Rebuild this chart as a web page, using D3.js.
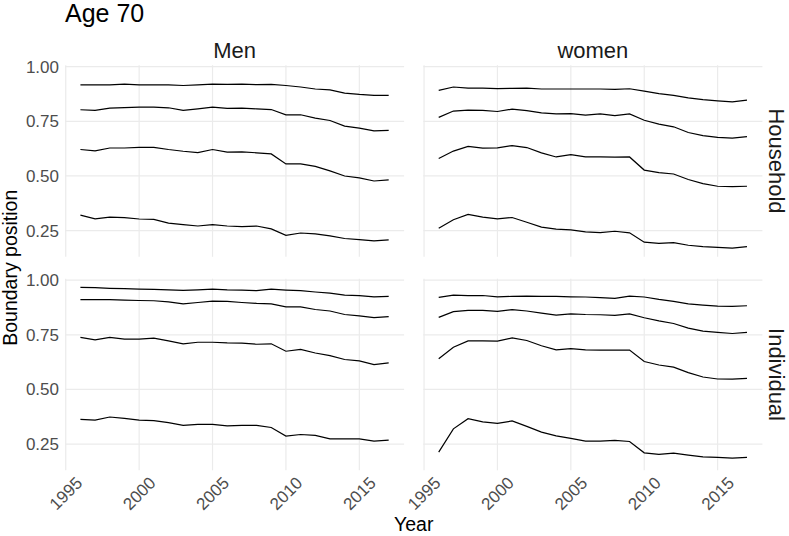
<!DOCTYPE html>
<html>
<head>
<meta charset="utf-8">
<script src="https://cdn.jsdelivr.net/npm/d3@7"></script>
<style>
  body { margin: 0; background: #fff; }
  svg { display: block; font-family: "Liberation Sans", Arial, Helvetica, sans-serif; }
  .grid line { stroke: #ebebeb; stroke-width: 1.2; }
  .tick-label { fill: #4d4d4d; font-size: 17px; }
  .strip { fill: #1a1a1a; font-size: 22px; }
</style>
</head>
<body>
<svg></svg>
<script>
let width = 789
let height = 536

// boundary positions, 1996..2017, four boundaries per panel
let years = [1996, 1997, 1998, 1999, 2000, 2001, 2002, 2003, 2004, 2005, 2006,
    2007, 2008, 2009, 2010, 2011, 2012, 2013, 2014, 2015, 2016, 2017]
let sexes = ['Men', 'women']
let units = ['Household', 'Individual']
let xTicks = [1995, 2000, 2005, 2010, 2015]
let yTicks = [0.25, 0.50, 0.75, 1.00]

let menHousehold = [
    [.321, .304, .312, .309, .303, .301, .284, .277, .271, .277, .271, .268, .271, .258, .228, .239, .235, .226, .214, .209, .203, .208],
    [.621, .615, .628, .628, .631, .631, .621, .613, .607, .621, .609, .610, .606, .601, .555, .555, .544, .523, .500, .491, .477, .482],
    [.803, .800, .810, .813, .815, .815, .812, .800, .807, .815, .809, .810, .807, .804, .780, .780, .765, .754, .728, .719, .706, .709],
    [.917, .917, .917, .920, .917, .917, .917, .914, .917, .920, .919, .920, .918, .919, .914, .907, .898, .894, .879, .873, .869, .869]
]
let womenHousehold = [
    [.261, .300, .324, .312, .304, .310, .288, .266, .257, .253, .244, .241, .247, .240, .197, .192, .195, .183, .177, .173, .170, .177],
    [.580, .614, .635, .627, .629, .639, .630, .606, .587, .598, .587, .587, .586, .587, .527, .515, .509, .484, .465, .453, .451, .453],
    [.768, .797, .801, .800, .795, .806, .799, .789, .784, .785, .778, .784, .776, .784, .755, .737, .725, .699, .685, .677, .673, .680],
    [.892, .907, .902, .902, .900, .901, .902, .898, .898, .898, .898, .898, .896, .899, .888, .877, .869, .857, .849, .844, .839, .847]
]
let menIndividual = [
    [.363, .360, .374, .368, .360, .357, .348, .336, .340, .340, .333, .336, .336, .326, .287, .294, .290, .274, .274, .274, .264, .268],
    [.738, .727, .738, .730, .730, .735, .722, .709, .716, .716, .713, .712, .707, .709, .675, .683, .667, .655, .637, .631, .614, .622],
    [.911, .911, .911, .909, .907, .906, .901, .892, .898, .904, .903, .898, .894, .892, .878, .878, .866, .859, .843, .837, .829, .833],
    [.967, .966, .963, .961, .959, .958, .956, .953, .956, .959, .956, .955, .952, .959, .955, .952, .946, .941, .932, .929, .924, .926]
]
let womenIndividual = [
    [.213, .320, .366, .352, .345, .356, .331, .305, .288, .276, .264, .264, .267, .262, .210, .203, .209, .200, .192, .189, .186, .189],
    [.641, .693, .722, .722, .721, .736, .724, .700, .681, .687, .681, .680, .680, .680, .628, .612, .602, .577, .557, .548, .547, .551],
    [.830, .856, .862, .862, .857, .865, .859, .849, .840, .846, .843, .842, .839, .846, .828, .814, .802, .781, .767, .761, .756, .761],
    [.921, .932, .929, .930, .924, .926, .927, .926, .926, .924, .923, .920, .917, .927, .923, .912, .903, .892, .886, .881, .880, .883]
]

let panels = [
    { row: 0, col: 0, lines: menHousehold },
    { row: 0, col: 1, lines: womenHousehold },
    { row: 1, col: 0, lines: menIndividual },
    { row: 1, col: 1, lines: womenIndividual }
]

let panelLeft = [65, 423.3]
let panelTop = [65.2, 278.7]
let panelW = 339.1
let panelH = 191.6

let svg = d3.select('svg')
    .attr('width', width)
    .attr('height', height)

// shared scales with ggplot-like 5% expansion
let xExt = d3.extent(years)
let xPad = (xExt[1] - xExt[0]) * 0.05
let allValues = panels.flatMap(p => p.lines.flat())
let yExt = d3.extent(allValues)
let yPad = (yExt[1] - yExt[0]) * 0.05

let xScales = panelLeft.map(l => d3.scaleLinear()
    .domain([xExt[0] - xPad, xExt[1] + xPad])
    .range([l, l + panelW]))
let yScales = panelTop.map(t => d3.scaleLinear()
    .domain([yExt[0] - yPad, yExt[1] + yPad])
    .range([t + panelH, t]))

let line = (x, y) => d3.line()
    .x((d, i) => x(years[i]))
    .y(d => y(d))

panels.forEach(p => {
    let x = xScales[p.col]
    let y = yScales[p.row]
    let g = svg.append('g')

    let grid = g.append('g').attr('class', 'grid')
    grid.selectAll('.gx')
        .data(xTicks).enter()
        .append('line')
        .attr('x1', d => x(d)).attr('x2', d => x(d))
        .attr('y1', y.range()[1]).attr('y2', y.range()[0])
    grid.selectAll('.gy')
        .data(yTicks).enter()
        .append('line')
        .attr('x1', x.range()[0]).attr('x2', x.range()[1])
        .attr('y1', d => y(d)).attr('y2', d => y(d))

    g.selectAll('.boundary')
        .data(p.lines).enter()
        .append('path')
        .attr('class', 'boundary')
        .attr('fill', 'none')
        .attr('stroke', '#000')
        .attr('stroke-width', 1.2)
        .attr('d', d => line(x, y)(d))
})

// y tick labels (left column only)
panelTop.forEach((t, r) => {
    svg.append('g').selectAll('text')
        .data(yTicks).enter()
        .append('text')
        .attr('class', 'tick-label')
        .attr('x', panelLeft[0] - 6)
        .attr('y', d => yScales[r](d))
        .attr('dy', '0.35em')
        .attr('text-anchor', 'end')
        .text(d3.format('.2f'))
})

// x tick labels (bottom row only), rotated 45
xScales.forEach(x => {
    svg.append('g').selectAll('text')
        .data(xTicks).enter()
        .append('text')
        .attr('class', 'tick-label')
        .attr('transform', d => `translate(${x(d)},${panelTop[1] + panelH + 23}) rotate(-45)`)
        .attr('text-anchor', 'middle')
        .attr('dy', '0.35em')
        .text(d => d)
})

// strips
sexes.forEach((s, c) => {
    svg.append('text')
        .attr('class', 'strip')
        .attr('x', panelLeft[c] + panelW / 2)
        .attr('y', 58)
        .attr('text-anchor', 'middle')
        .text(s)
})
units.forEach((u, r) => {
    svg.append('text')
        .attr('class', 'strip')
        .attr('transform', `translate(${panelLeft[1] + panelW + 7},${panelTop[r] + panelH / 2}) rotate(90)`)
        .attr('text-anchor', 'middle')
        .text(u)
})

// titles
svg.append('text')
    .attr('x', 65)
    .attr('y', 22)
    .attr('font-size', 25)
    .attr('fill', '#000')
    .text('Age 70')

svg.append('text')
    .attr('x', (panelLeft[0] + panelLeft[1] + panelW) / 2)
    .attr('y', 531)
    .attr('text-anchor', 'middle')
    .attr('font-size', 19.5)
    .attr('fill', '#000')
    .text('Year')

svg.append('text')
    .attr('transform', `translate(17,${(panelTop[0] + panelTop[1] + panelH) / 2}) rotate(-90)`)
    .attr('text-anchor', 'middle')
    .attr('font-size', 19.5)
    .attr('fill', '#000')
    .text('Boundary position')
</script>
</body>
</html>
